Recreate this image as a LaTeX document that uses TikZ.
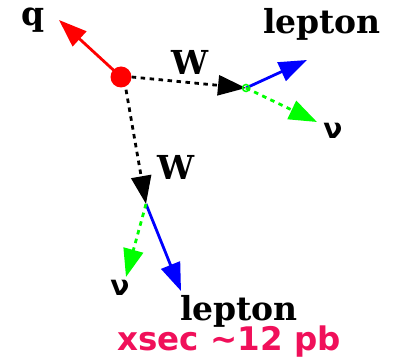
\documentclass[tikz,border=0pt]{standalone}
\usepackage{fontspec}
\setmainfont{DejaVu Serif}
\newfontfamily\dvsans{DejaVu Sans}
\usetikzlibrary{arrows.meta}
\definecolor{xsecred}{RGB}{240,16,90}
\tikzset{
  arr/.style={line width=2.8pt,-{Triangle[length=28pt,width=20pt]}},
  dsh/.style={arr,dash pattern=on 4.5pt off 4.5pt},
  lbl/.style={font=\fontsize{33}{33}\selectfont\bfseries,inner sep=0pt},
  nulbl/.style={font=\fontsize{28}{28}\selectfont\dvsans\bfseries,inner sep=0pt},
}
\begin{document}
\begin{tikzpicture}[x=1pt,y=-1pt]
\useasboundingbox (0,0) rectangle (399,358);
\node[circle,fill=red,minimum size=21pt,inner sep=0pt] (dot) at (121,77) {};
\coordinate (qt) at (59,20);
\coordinate (v1) at (246,88);
\coordinate (v2) at (146,204);
\coordinate (l1) at (307,60);
\coordinate (n1) at (317,122);
\coordinate (l2) at (181,291);
\coordinate (n2) at (126,277);
\draw[arr,red] (dot.center) -- (qt);
\draw[dsh,black] (dot.east) -- (v1);
\draw[dsh,black] (dot.south) ++(5,2) -- (v2);
\draw[arr,blue] (v1) -- (l1);
\draw[dsh,green] (v1) -- (n1);
\draw[arr,blue] (v2) -- (l2);
\draw[dsh,green] (v2) -- (n2);
\node[circle,draw=green,line width=1.5pt,minimum size=7pt,inner sep=0pt] (v1c) at (v1) {};
\node[lbl] (q) at (33,20) {q};
\node[lbl] (w1) at (190,62) {W};
\node[lbl] (w2) at (176,167) {W};
\node[lbl] (lep1) at (322,24) {lepton};
\node[lbl] (lep2) at (239,311) {lepton};
\node[nulbl] (nu1) at (333,131) {ν};
\node[nulbl] (nu2) at (120,288) {ν};
\node[font=\fontsize{32.5}{32.5}\selectfont\dvsans\bfseries,text=xsecred,inner sep=0pt] (xs) at (229,342) {xsec \textasciitilde12 pb};
\end{tikzpicture}
\end{document}
